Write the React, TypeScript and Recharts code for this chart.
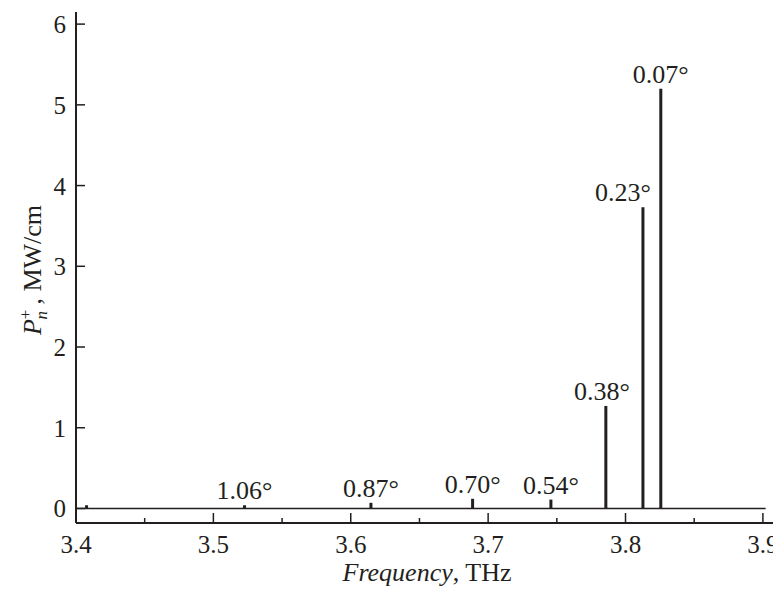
import React from "react";
import { ComposedChart, Bar, XAxis, YAxis, ReferenceLine, LabelList, Label } from "recharts";

const frequencies = [3.408, 3.523, 3.615, 3.689, 3.746, 3.786, 3.813, 3.826];
const power = [0.04, 0.04, 0.07, 0.12, 0.11, 1.27, 3.73, 5.2];
const angleLabels = ["", "1.06°", "0.87°", "0.70°", "0.54°", "0.38°", "0.23°", "0.07°"];
const xTicks = [3.4, 3.45, 3.5, 3.55, 3.6, 3.65, 3.7, 3.75, 3.8, 3.85, 3.9];
const xMajorLabels = ["3.4", "3.5", "3.6", "3.7", "3.8", "3.9"];
const yTicks = [0, 1, 2, 3, 4, 5, 6];

const data = frequencies.map((f, i) => ({ f, p: power[i], label: angleLabels[i] }));

const INK = "#231f20";
const FONT = "Liberation Serif";
const FS = 25;
const labelShift: Record<string, number> = { "0.23°": -20, "0.38°": -4 };

const XTick = (props: any) => {
  const { x, y, payload } = props;
  const v = payload.value as number;
  const txt = (Math.round(v * 100) / 100).toString();
  const major = xMajorLabels.includes(txt);
  return (
    <g>
      <line x1={x} x2={x} y1={y} y2={y - (major ? 10 : 5)} stroke={INK} strokeWidth={1.5} />
      {major && (
        <text x={x} y={y + 30} textAnchor="middle" fontFamily={FONT} fontSize={FS} fill={INK}>
          {txt}
        </text>
      )}
    </g>
  );
};

const YTick = (props: any) => {
  const { x, y, payload } = props;
  return (
    <g>
      <line x1={x} x2={x + 9} y1={y} y2={y} stroke={INK} strokeWidth={1.5} />
      <text x={x - 10} y={y + 9} textAnchor="end" fontFamily={FONT} fontSize={FS} fill={INK}>
        {payload.value}
      </text>
    </g>
  );
};

const renderBarLabel = (props: any) => {
  const { x, y, width, value } = props;
  if (!value) return null;
  const cx = Number(x) + Number(width) / 2 + (labelShift[value] || 0);
  return (
    <text x={cx} y={Number(y) - 6} textAnchor="middle" fontFamily={FONT} fontSize={26} fill={INK}>
      {value}
    </text>
  );
};

const YTitle = () => (
  <text
    transform="translate(41,270) rotate(-90)"
    textAnchor="middle"
    fontFamily={FONT}
    fontSize={26}
    fill={INK}
  >
    <tspan fontStyle="italic">P</tspan>
    <tspan dy={-10} fontSize={17}>+</tspan>
    <tspan dx={-10} dy={16} fontSize={17} fontStyle="italic">n</tspan>
    <tspan dy={-6}>{" , MW/cm"}</tspan>
  </text>
);

const XTitle = () => (
  <text x={427} y={581} textAnchor="middle" fontFamily={FONT} fontSize={26} fill={INK}>
    <tspan fontStyle="italic">Frequency</tspan>
    <tspan>, THz</tspan>
  </text>
);

export default function App() {
  return (
    <div style={{ margin: "-8px 0 0 -8px", width: 781, height: 590 }}>
      <ComposedChart
        width={781}
        height={590}
        data={data}
        style={{ overflow: "visible" }}
        margin={{ top: 12, right: 3, left: 16, bottom: 7 }}
      >
        <XAxis
          dataKey="f"
          type="number"
          domain={[3.4, 3.911]}
          allowDataOverflow
          ticks={xTicks}
          interval={0}
          height={60}
          tickSize={0}
          tickMargin={0}
          tickLine={false}
          tick={<XTick />}
          axisLine={{ stroke: INK, strokeWidth: 2 }}
        >
          <Label content={<XTitle />} />
        </XAxis>
        <YAxis
          type="number"
          domain={[-0.18, 6.15]}
          allowDataOverflow
          ticks={yTicks}
          interval={0}
          width={60}
          tickSize={0}
          tickMargin={0}
          tickLine={false}
          tick={<YTick />}
          axisLine={{ stroke: INK, strokeWidth: 2 }}
        >
          <Label content={<YTitle />} />
        </YAxis>
        <ReferenceLine
          segment={[
            { x: 3.4, y: 0 },
            { x: 3.902, y: 0 },
          ]}
          stroke={INK}
          strokeWidth={1.5}
        />
        <Bar dataKey="p" fill={INK} barSize={3} isAnimationActive={false}>
          <LabelList dataKey="label" content={renderBarLabel} />
        </Bar>
      </ComposedChart>
    </div>
  );
}
